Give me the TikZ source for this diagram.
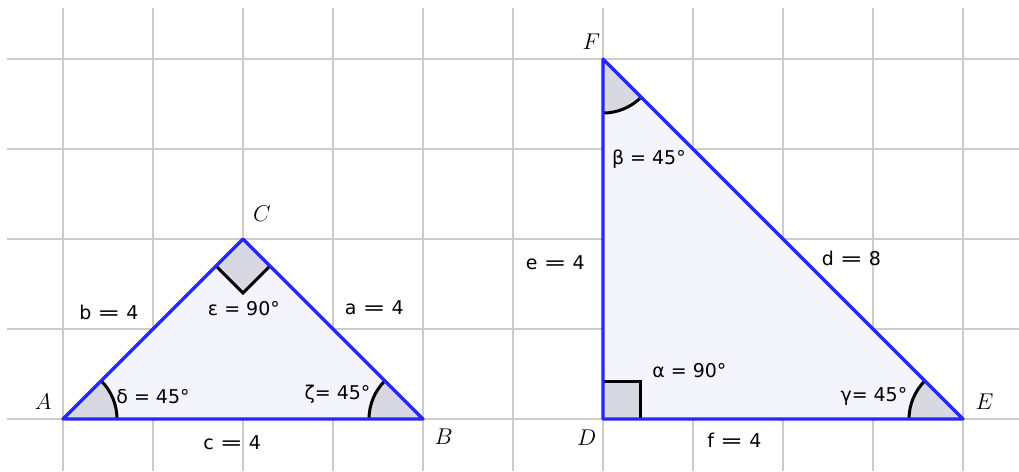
\documentclass[tikz,border=0pt]{standalone}
\usepackage{fontspec}
\usepackage{graphicx}
\usepackage{tikz}
\usetikzlibrary{calc}
\newfontfamily\geofont{DejaVu Sans}
\definecolor{edgeblue}{RGB}{38,38,255}
\definecolor{polyfill}{RGB}{244,244,253}
\definecolor{anglefill}{RGB}{216,216,226}
\definecolor{gridgray}{RGB}{204,204,204}
\newcommand{\weq}{\scalebox{1.45}[1]{=}}
\tikzset{
  gridline/.style={gridgray, line width=0.9pt},
  side/.style={edgeblue, line width=2.1pt, line join=round},
  angmark/.style={line width=1.9pt},
  sidelabel/.style={font=\geofont\fontsize{12}{14}\selectfont, inner sep=0pt},
  anglabel/.style={font=\geofont\fontsize{12}{14}\selectfont, inner sep=0pt},
  vlabel/.style={font=\fontsize{15.5}{18}\selectfont, inner sep=0pt}
}

\begin{document}
\begin{tikzpicture}[x=2cm, y=2cm]
			\useasboundingbox (-0.7,-0.578) rectangle (10.622,4.656);
			\foreach \x in {0,...,10} \draw[gridline] (\x,-0.578) -- (\x,4.567);
			\foreach \y in {0,...,4} \draw[gridline] (-0.622,\y) -- (10.622,\y);
			\coordinate (A) at (0,0);
			\coordinate (B) at (4,0);
			\coordinate (C) at (2,2);
			\coordinate (D) at (6,0);
			\coordinate (E) at (10,0);
			\coordinate (F) at (6,4);
			\fill[polyfill] (A) -- (B) -- (C) -- cycle;
			\fill[polyfill] (D) -- (E) -- (F) -- cycle;
			% angles of ABC
			\fill[anglefill] (A) -- ++(0:0.6) arc[start angle=0, end angle=45, radius=0.6] -- cycle;
			\draw[angmark] ($(A)+(0:0.6)$) arc[start angle=0, end angle=45, radius=0.6];
			\fill[anglefill] (B) -- ++(180:0.6) arc[start angle=180, end angle=135, radius=0.6] -- cycle;
			\draw[angmark] ($(B)+(180:0.6)$) arc[start angle=180, end angle=135, radius=0.6];
			\fill[anglefill] (C) -- ++(-0.3,-0.3) -- ++(0.3,-0.3) -- ++(0.3,0.3) -- cycle;
			\draw[angmark] ($(C)+(-0.3,-0.3)$) -- ++(0.3,-0.3) -- ++(0.3,0.3);
			% angles of DEF
			\fill[anglefill] (D) rectangle ++(0.42,0.42);
			\draw[angmark] ($(D)+(0.42,0)$) -- ++(0,0.42) -- ++(-0.42,0);
			\fill[anglefill] (E) -- ++(180:0.6) arc[start angle=180, end angle=135, radius=0.6] -- cycle;
			\draw[angmark] ($(E)+(180:0.6)$) arc[start angle=180, end angle=135, radius=0.6];
			\fill[anglefill] (F) -- ++(270:0.6) arc[start angle=270, end angle=315, radius=0.6] -- cycle;
			\draw[angmark] ($(F)+(270:0.6)$) arc[start angle=270, end angle=315, radius=0.6];
			\draw[side] (A) -- (B) -- (C) -- cycle;
			\draw[side] (D) -- (E) -- (F) -- cycle;
			% vertex names
			\node[vlabel] (nameA) at (-0.22,0.19) {$A$};
			\node[vlabel] (nameB) at (4.23,-0.2) {$B$};
			\node[vlabel] (nameC) at (2.21,2.28) {$C$};
			\node[vlabel] (nameD) at (5.82,-0.21) {$D$};
			\node[vlabel] (nameE) at (10.24,0.19) {$E$};
			\node[vlabel] (nameF) at (5.87,4.19) {$F$};
			% sides
			\node[sidelabel] (sidec) at (1.88,-0.26) {c \weq{} 4};
			\node[sidelabel] (sideb) at (0.51,1.18) {b \weq{} 4};
			\node[sidelabel] (sidea) at (3.46,1.24) {a \weq{} 4};
			\node[sidelabel] (sidee) at (5.47,1.74) {e \weq{} 4};
			\node[sidelabel] (sided) at (8.76,1.78) {d \weq{} 8};
			\node[sidelabel] (sidef) at (7.46,-0.24) {f \weq{} 4};
			% angle values
			\node[anglabel] (angdelta) at (1.0,0.25) {δ = 45°};
			\node[anglabel] (angzeta) at (3.05,0.27) {ζ= 45°};
			\node[anglabel] (angeps) at (2.01,1.23) {ε = 90°};
			\node[anglabel] (angbeta) at (6.51,2.89) {β = 45°};
			\node[anglabel] (angalpha) at (6.96,0.54) {α = 90°};
			\node[anglabel] (anggamma) at (9.01,0.25) {γ= 45°};
		\end{tikzpicture}
\end{document}
